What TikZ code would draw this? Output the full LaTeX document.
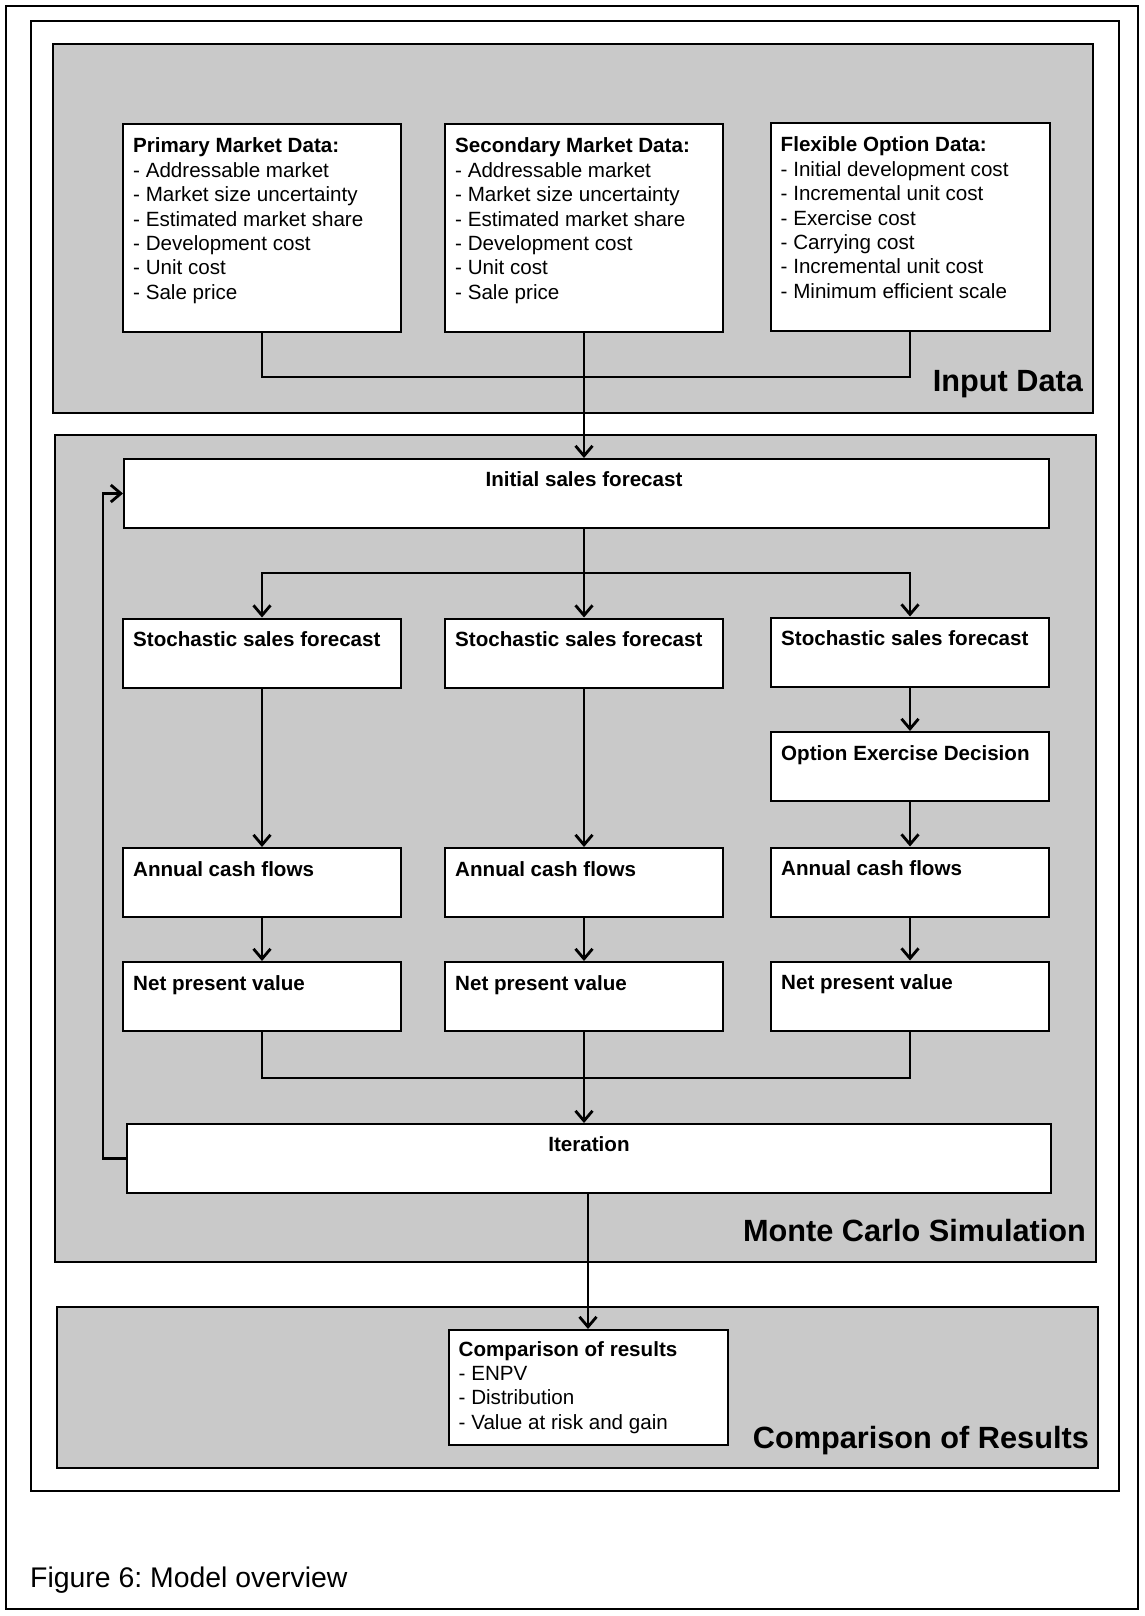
\documentclass[tikz,border=0pt]{standalone}
\usepackage{fontspec}
\setmainfont{Liberation Sans}
\usetikzlibrary{arrows.meta}
\definecolor{panelgray}{gray}{0.79}
\frenchspacing
\begin{document}
\begin{tikzpicture}[x=1pt,y=-1pt,
  frame/.style={draw=black, line width=1.6pt},
  panel/.style={draw=black, line width=2.2pt, fill=panelgray, rectangle, inner sep=0pt},
  box/.style={draw=black, line width=2pt, fill=white, rectangle, inner sep=0pt},
  colbox/.style={box, minimum width=278pt, minimum height=69pt},
  conn/.style={line width=2.8pt, draw=black},
  arr/.style={conn, -{Straight Barb[length=10pt,width=17pt,line width=2.8pt]}},
  boxtext/.style={anchor=base west, inner sep=0pt, font=\fontsize{20.6}{24.4}\selectfont},
  boldtext/.style={anchor=base west, inner sep=0pt, font=\fontsize{20.6}{24.4}\selectfont\bfseries},
  ctrtext/.style={anchor=base, inner sep=0pt, font=\fontsize{20.6}{24.4}\selectfont\bfseries},
  biglabel/.style={anchor=base east, inner sep=0pt, font=\fontsize{30.7}{34}\selectfont\bfseries}
]
\useasboundingbox (0,0) rectangle (1144,1616);
\fill[white] (0,0) rectangle (1144,1616);

% frames
\draw[frame] (6,6) rectangle (1138,1609);
\draw[frame] (31,21) rectangle (1119,1491);

% panels
\node[panel, minimum width=1040pt, minimum height=369pt] (inp) at (573,228.5) {};
\node[panel, minimum width=1041pt, minimum height=827pt] (mcs) at (575.5,848.5) {};
\node[panel, minimum width=1041pt, minimum height=161pt] (cmp) at (577.5,1387.5) {};

\node[biglabel] (inpl) at ([xshift=-11pt,yshift=23pt]inp.south east) {Input Data};
\node[biglabel] (mcsl) at ([xshift=-11pt,yshift=22pt]mcs.south east) {Monte Carlo Simulation};
\node[biglabel] (cmpl) at ([xshift=-10pt,yshift=21pt]cmp.south east) {Comparison of Results};

% input boxes
\node[box, minimum width=278pt, minimum height=208pt] (prim) at (262,228) {};
\node[box, minimum width=278pt, minimum height=208pt] (sec) at (584,228) {};
\node[box, minimum width=279pt, minimum height=208pt] (flex) at (910,227) {};

\node[boxtext] (primt) at ([xshift=11pt,yshift=-30pt]prim.north west)
 {\begin{tabular}[t]{@{}l@{}}\textbf{Primary Market Data:}\\- Addressable market\\- Market size uncertainty\\- Estimated market share\\- Development cost\\- Unit cost\\- Sale price\end{tabular}};
\node[boxtext] (sect) at ([xshift=11pt,yshift=-30pt]sec.north west)
 {\begin{tabular}[t]{@{}l@{}}\textbf{Secondary Market Data:}\\- Addressable market\\- Market size uncertainty\\- Estimated market share\\- Development cost\\- Unit cost\\- Sale price\end{tabular}};
\node[boxtext] (flext) at ([xshift=11pt,yshift=-30pt]flex.north west)
 {\begin{tabular}[t]{@{}l@{}}\textbf{Flexible Option Data:}\\- Initial development cost\\- Incremental unit cost\\- Exercise cost\\- Carrying cost\\- Incremental unit cost\\- Minimum efficient scale\end{tabular}};

% Monte Carlo boxes
\node[box, minimum width=925pt, minimum height=69pt] (init) at (586.5,493.5) {};
\node[colbox] (st1) at (262,653) {};
\node[colbox] (st2) at (584,653) {};
\node[colbox] (st3) at (910,652) {};
\node[colbox] (opt) at (910,766.5) {};
\node[colbox] (an1) at (262,882.5) {};
\node[colbox] (an2) at (584,882.5) {};
\node[colbox] (an3) at (910,882) {};
\node[colbox] (np1) at (262,996.5) {};
\node[colbox] (np2) at (584,996.5) {};
\node[colbox] (np3) at (910,996) {};
\node[box, minimum width=924pt, minimum height=69pt] (iter) at (589,1158.5) {};

\node[ctrtext] (initt) at ([yshift=-28pt]init.north -| st2.north) {Initial sales forecast};
\node[boldtext] (st1t) at ([xshift=11pt,yshift=-29pt]st1.north west) {Stochastic sales forecast};
\node[boldtext] (st2t) at ([xshift=11pt,yshift=-29pt]st2.north west) {Stochastic sales forecast};
\node[boldtext] (st3t) at ([xshift=11pt,yshift=-29pt]st3.north west) {Stochastic sales forecast};
\node[boldtext] (optt) at ([xshift=11pt,yshift=-29pt]opt.north west) {Option Exercise Decision};
\node[boldtext] (an1t) at ([xshift=11pt,yshift=-29pt]an1.north west) {Annual cash flows};
\node[boldtext] (an2t) at ([xshift=11pt,yshift=-29pt]an2.north west) {Annual cash flows};
\node[boldtext] (an3t) at ([xshift=11pt,yshift=-29pt]an3.north west) {Annual cash flows};
\node[boldtext] (np1t) at ([xshift=11pt,yshift=-29pt]np1.north west) {Net present value};
\node[boldtext] (np2t) at ([xshift=11pt,yshift=-29pt]np2.north west) {Net present value};
\node[boldtext] (np3t) at ([xshift=11pt,yshift=-29pt]np3.north west) {Net present value};
\node[ctrtext] (itert) at ([yshift=-28pt]iter.north) {Iteration};

% comparison box
\node[box, minimum width=279pt, minimum height=115pt] (comp) at (588,1387.5) {};
\node[boxtext] (compt) at ([xshift=11pt,yshift=-27pt]comp.north west)
 {\begin{tabular}[t]{@{}l@{}}\textbf{Comparison of results}\\- ENPV\\- Distribution\\- Value at risk and gain\end{tabular}};

% caption
\node[anchor=base west, inner sep=0pt, font=\fontsize{28.4}{31}\selectfont] (cap) at (30,1587) {Figure 6: Model overview};

% connectors
\coordinate (j1) at (584,377);
\coordinate (j2) at (584,573);
\coordinate (j3) at (585,1078);
\coordinate (fbx) at (103,1158.5);

\draw[conn] (prim.south) |- (j1) -| (flex.south);
\draw[arr] (sec.south) -- (sec.south |- init.north);

\draw[arr] (init.south -| st2.north) -- (st2.north);
\draw[arr] (j2) -| (st1.north);
\draw[arr] (j2) -| (st3.north);

\draw[arr] (st1.south) -- (an1.north);
\draw[arr] (st2.south) -- (an2.north);
\draw[arr] (st3.south) -- (opt.north);
\draw[arr] (opt.south) -- (an3.north);

\draw[arr] (an1.south) -- (np1.north);
\draw[arr] (an2.south) -- (np2.north);
\draw[arr] (an3.south) -- (np3.north);

\draw[conn] (np1.south) |- (j3) -| (np3.south);
\draw[arr] (np2.south) -- (np2.south |- iter.north);

\draw[arr] (iter.west) -- (fbx) |- (init.west);
\draw[arr] (comp.north |- iter.south) -- (comp.north);
\end{tikzpicture}
\end{document}
